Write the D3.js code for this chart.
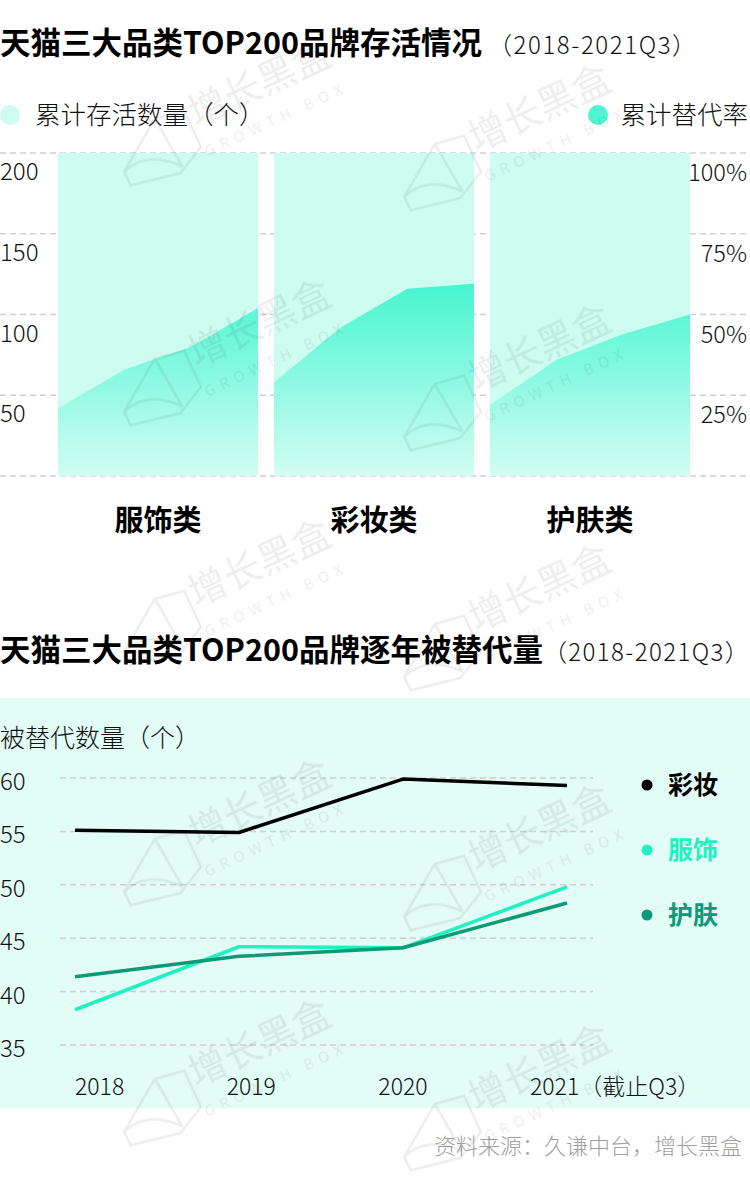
<!DOCTYPE html>
<html><head><meta charset="utf-8">
<script src="https://cdn.jsdelivr.net/npm/d3@7"></script>
<style>
html,body{margin:0;padding:0;background:#fff;}
svg{display:block;font-family:"Noto Sans CJK SC","Noto Sans",sans-serif;}
</style></head>
<body><svg id="c" width="750" height="1184"></svg>
<script>
// ---------- data ----------
const years = ["2018","2019","2020","2021"];
const categories = ["服饰类","彩妆类","护肤类"];
const survivalCount = [200,200,200,200];            // 累计存活数量（个）
const replaceRateApparel  = [0.21,0.33,0.40,0.52];  // 累计替代率 服饰
const replaceRateMakeup   = [0.29,0.46,0.58,0.595]; // 彩妆
const replaceRateSkincare = [0.22,0.36,0.44,0.50];  // 护肤
const leftTicks = [50,100,150,200];
const rightTicks = [0.25,0.5,0.75,1];

const lineSeriesNames = ["彩妆","服饰","护肤"];
const makeupReplaced   = [55.1,54.9,59.9,59.3];
const apparelReplaced  = [38.3,44.2,44.1,49.8];
const skincareReplaced = [41.4,43.3,44.1,48.3];
const yTicks2 = [35,40,45,50,55,60];
const xLabels2 = ["2018","2019","2020","2021（截止Q3）"];

const svg = d3.select("#c");
const LIGHT = 300;

// ---------- chart 1 ----------
const t1 = svg.append("text").attr("x",0).attr("y",54);
t1.append("tspan").attr("font-size",30.5).attr("font-weight",700).attr("fill","#000").text("天猫三大品类TOP200品牌存活情况");
t1.append("tspan").attr("dx",6).attr("font-size",24).attr("letter-spacing",1.6).attr("font-weight",LIGHT).attr("fill","#111").text("（2018-2021Q3）");

// legend
svg.append("circle").attr("cx",10).attr("cy",115).attr("r",10).attr("fill","#ccfbef");
svg.append("text").attr("x",35).attr("y",124).attr("font-size",25.5).attr("font-weight",LIGHT).attr("fill","#111").text("累计存活数量（个）");
svg.append("circle").attr("cx",598).attr("cy",115).attr("r",10).attr("fill","#4df5d3");
svg.append("text").attr("x",748).attr("y",124).attr("text-anchor","end").attr("font-size",25.5).attr("font-weight",LIGHT).attr("fill","#111").text("累计替代率");

const yTop = 153, yBot = 476;
const yL = d3.scaleLinear().domain([0,200]).range([yBot,yTop]);
const yR = d3.scaleLinear().domain([0,1]).range([yBot,yTop]);
const panel = d3.scaleBand().domain(categories).range([58,690]).paddingInner(0.074).paddingOuter(0);
// gridlines
svg.append("g").selectAll("line").data([0,...leftTicks]).join("line")
  .attr("x1",0).attr("x2",750).attr("y1",d=>yL(d)).attr("y2",d=>yL(d))
  .attr("stroke","#cfcfcf").attr("stroke-width",1.5).attr("stroke-dasharray","6,4");

const defs = svg.append("defs");
const grad = defs.append("linearGradient").attr("id","ag").attr("gradientUnits","userSpaceOnUse")
  .attr("x1",0).attr("x2",0).attr("y1",280).attr("y2",yBot);
grad.append("stop").attr("offset",0).attr("stop-color","#44f5d0");
grad.append("stop").attr("offset",1).attr("stop-color","#d3fdf3");

const rates = [replaceRateApparel, replaceRateMakeup, replaceRateSkincare];
categories.forEach((cat,i)=>{
  const x = d3.scalePoint().domain(years).range([panel(cat), panel(cat)+panel.bandwidth()]);
  const g = svg.append("g");
  g.append("path").datum(survivalCount)
    .attr("d", d3.area().x((d,j)=>x(years[j])).y0(yBot).y1(d=>yL(d)))
    .attr("fill","#cdfcf0");
  g.append("path").datum(rates[i])
    .attr("d", d3.area().x((d,j)=>x(years[j])).y0(yBot).y1(d=>yR(d)))
    .attr("fill","url(#ag)");
  svg.append("text").attr("x",panel(cat)+panel.bandwidth()/2).attr("y",531)
    .attr("text-anchor","middle").attr("font-size",29).attr("font-weight",700).attr("fill","#000").text(cat);
});
// axis labels
svg.append("g").selectAll("text").data(leftTicks).join("text")
  .attr("x",0).attr("y",d=>yL(d)+27).attr("font-size",24).attr("font-weight",LIGHT).attr("fill","#111")
  .text(d=>d);
svg.append("g").selectAll("text").data(rightTicks).join("text")
  .attr("x",747).attr("y",d=>yR(d)+28).attr("text-anchor","end").attr("font-size",23.5).attr("font-weight",LIGHT).attr("fill","#111")
  .text(d=>d3.format(".0%")(d));

// ---------- chart 2 ----------
const t2 = svg.append("text").attr("x",0).attr("y",661);
t2.append("tspan").attr("font-size",30.5).attr("font-weight",700).attr("fill","#000").text("天猫三大品类TOP200品牌逐年被替代量");
t2.append("tspan").attr("font-size",24).attr("letter-spacing",1.4).attr("font-weight",LIGHT).attr("fill","#111").text("（2018-2021Q3）");

svg.append("rect").attr("x",0).attr("y",698).attr("width",750).attr("height",410).attr("fill","#e2fcf6");
svg.append("text").attr("x",0).attr("y",747).attr("font-size",25).attr("font-weight",LIGHT).attr("fill","#111").text("被替代数量（个）");

const y2 = d3.scaleLinear().domain([35,60]).range([1045,778]);
const x2 = d3.scalePoint().domain(years).range([75,567]);
const xl = d3.scalePoint().domain(years).range([75,530]);
svg.append("g").selectAll("line").data(yTicks2).join("line")
  .attr("x1",60).attr("x2",593).attr("y1",d=>y2(d)).attr("y2",d=>y2(d))
  .attr("stroke","#d8c9cc").attr("stroke-width",1.5).attr("stroke-dasharray","6,4");
svg.append("g").selectAll("text").data(yTicks2).join("text")
  .attr("x",0).attr("y",d=>y2(d)+12).attr("font-size",24).attr("font-weight",LIGHT).attr("fill","#111").text(d=>d);
svg.append("g").selectAll("text").data(years).join("text")
  .attr("x",d=>xl(d)).attr("y",1095).attr("font-size",23).attr("font-weight",LIGHT).attr("fill","#111")
  .text((d,i)=>xLabels2[i]);

const seriesColors = ["#000000","#1ef2c2","#0d9a77"];
const seriesVals = [makeupReplaced, apparelReplaced, skincareReplaced];
const line = d3.line().x((d,j)=>x2(years[j])).y(d=>y2(d));
[1,2,0].forEach(i=>{
  svg.append("path").datum(seriesVals[i]).attr("d",line).attr("fill","none")
    .attr("stroke",seriesColors[i]).attr("stroke-width",3.5).attr("stroke-linejoin","round");
});
const legY = d3.scalePoint().domain(lineSeriesNames).range([785,915]);
lineSeriesNames.forEach((n,i)=>{
  svg.append("circle").attr("cx",647).attr("cy",legY(n)).attr("r",5.5).attr("fill",seriesColors[i]);
  svg.append("text").attr("x",668).attr("y",legY(n)+9).attr("font-size",25).attr("font-weight",700)
    .attr("fill",seriesColors[i]).text(n);
});

// footer
svg.append("text").attr("x",742).attr("y",1154).attr("text-anchor","end").attr("font-size",22)
  .attr("font-weight",LIGHT).attr("fill","#a0a0a0").text("资料来源：久谦中台，增长黑盒");

// ---------- watermark (on top) ----------
const wm = svg.append("g").attr("opacity",0.08).attr("pointer-events","none");
for (let r=0;r<5;r++){
  for (let c=0;c<2;c++){
    const cx = [265,545][c];
    const cy = 95 + r*240 + c*25;
    const g = wm.append("g").attr("transform",`translate(${cx},${cy}) rotate(-25)`);
    g.append("text").attr("x",0).attr("y",0).attr("text-anchor","middle")
      .attr("font-size",38).attr("font-weight",400).attr("fill","#222").text("增长黑盒");
    g.append("text").attr("x",0).attr("y",32).attr("text-anchor","middle")
      .attr("font-size",15).attr("letter-spacing",6).attr("fill","#222").text("GROWTH BOX");
    g.append("path").attr("d","M-160,10 L-110,-25 L-80,-20 L-80,20 L-110,35 L-160,25 Z M-110,-25 L-105,30 M-160,10 Q-130,0 -105,30")
      .attr("fill","none").attr("stroke","#222").attr("stroke-width",2.5);
  }
}
</script></body></html>
